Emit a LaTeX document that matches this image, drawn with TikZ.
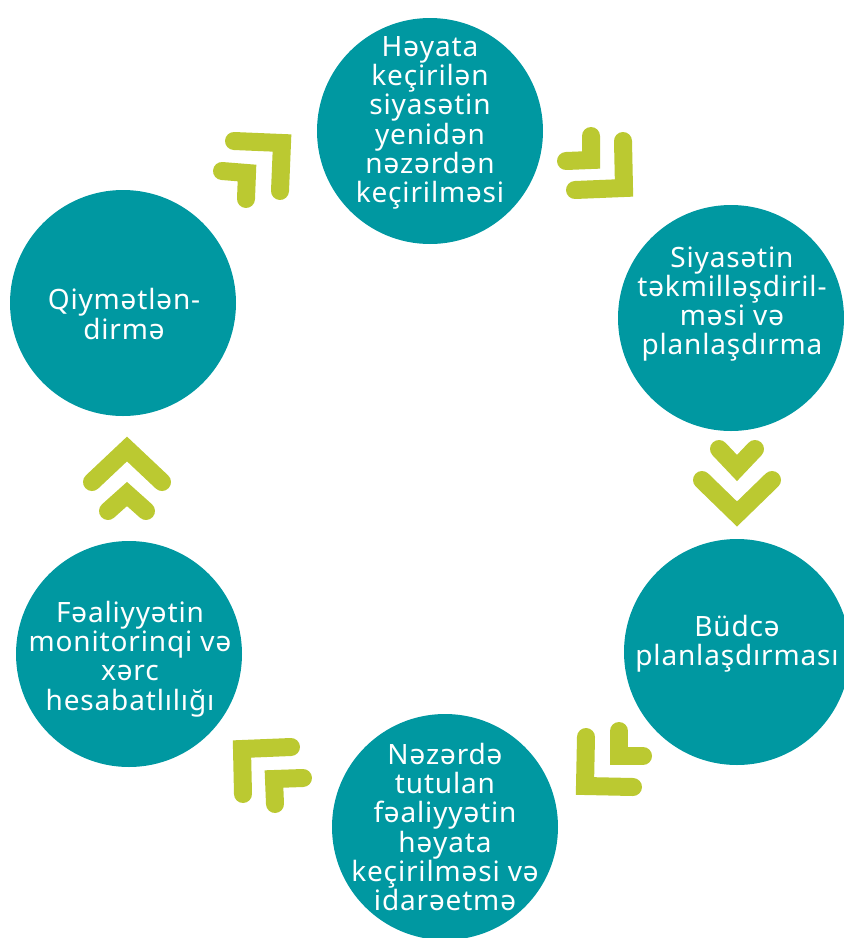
\documentclass[tikz,border=0pt]{standalone}
\usepackage{fontspec}
\setmainfont[LetterSpace=3]{Noto Sans}
\definecolor{stageteal}{RGB}{0,152,161}
\definecolor{chevlime}{RGB}{187,201,49}
\begin{document}
\begin{tikzpicture}[x=1pt,y=-1pt,
  stage/.style={circle, fill=stageteal, minimum size=226pt, inner sep=0pt},
  lbl/.style={text=white, align=center, inner sep=0pt, font=\fontsize{28}{29.3}\selectfont},
  chev/.style={draw=chevlime, line width=18pt, line cap=round, line join=miter}]
\useasboundingbox (0,0) rectangle (844,938);
% circles
\node[stage] (c1) at (430,131) {};
\node[stage] (c2) at (731,318) {};
\node[stage] (c3) at (737,652) {};
\node[stage] (c4) at (445,827) {};
\node[stage] (c5) at (129,654) {};
\node[stage] (c6) at (123,303) {};
% labels
\node[lbl] (t1) at (430,123) {Həyata\\keçirilən\\siyasətin\\yenidən\\nəzərdən\\keçirilməsi};
\node[lbl] (t2) at (732,304) {Siyasətin\\təkmilləşdiril-\\məsi və\\planlaşdırma};
\node[lbl] (t3) at (737,644) {Büdcə\\planlaşdırması};
\node[lbl] (t4) at (445,827) {Nəzərdə\\tutulan\\fəaliyyətin\\həyata\\keçirilməsi və\\idarəetmə};
\node[lbl] (t5) at (130,659) {Fəaliyyətin\\monitorinqi və\\xərc\\hesabatlılığı};
\node[lbl] (t6) at (124,314) {Qiymətlən-\\dirmə};
% chevrons
\draw[chev] (234,141) -- (282,143) -- (280,191);
\draw[chev] (222,171) -- (247,173) -- (246,199);
\draw[chev] (591,136) -- (591,160) -- (566,161);
\draw[chev] (623,141) -- (624,188) -- (575,190);
\draw[chev] (719,449) -- (737,468) -- (755,449);
\draw[chev] (702,480) -- (737,514) -- (772,480);
\draw[chev] (619,731) -- (619,756) -- (643,756);
\draw[chev] (586,737) -- (585,786) -- (633,787);
\draw[chev] (291,747) -- (242,749) -- (243,794);
\draw[chev] (303,778) -- (274,779) -- (275,804);
\draw[chev] (92,482) -- (127,449) -- (162,482);
\draw[chev] (108,511) -- (127,494) -- (146,511);
\end{tikzpicture}
\end{document}
